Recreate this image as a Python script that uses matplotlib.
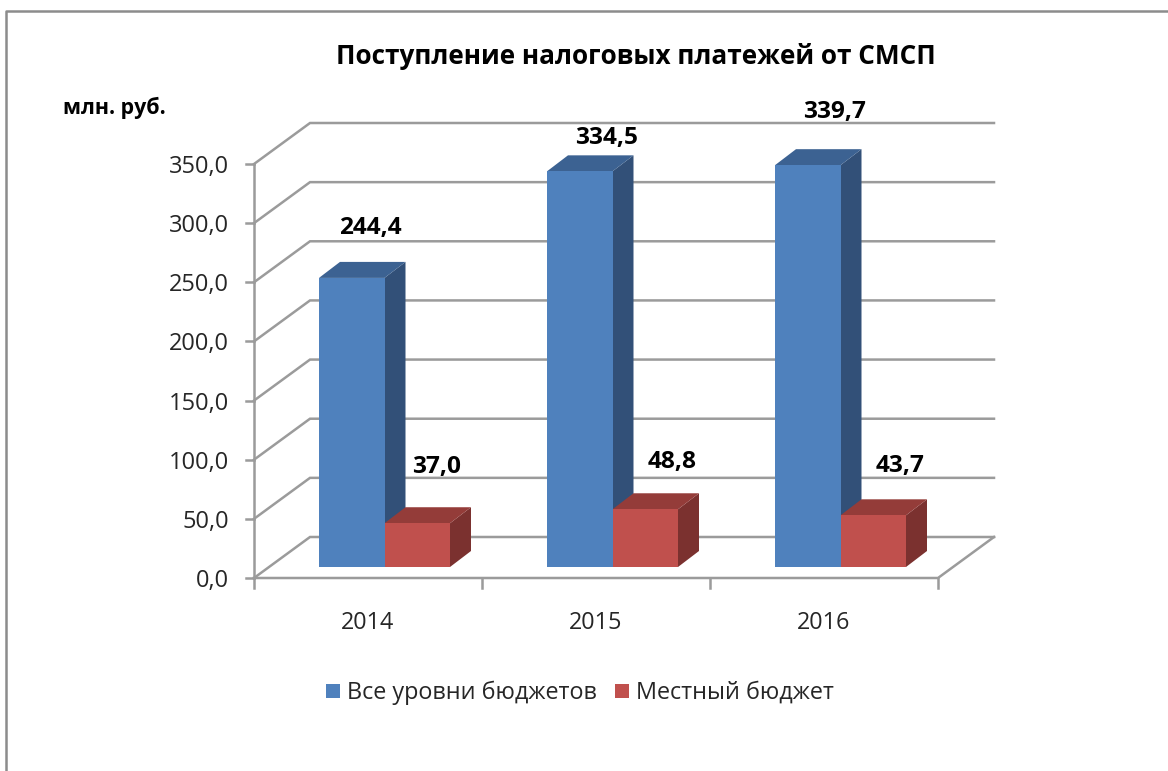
import matplotlib
matplotlib.use('Agg')
import matplotlib.pyplot as plt
from matplotlib.patches import Rectangle

plt.rcParams['font.family'] = ['Open Sans', 'DejaVu Sans']

years = ['2014', '2015', '2016']
all_budgets = [244.4, 334.5, 339.7]
local_budget = [37.0, 48.8, 43.7]
all_labels = ['244,4', '334,5', '339,7']
local_labels = ['37,0', '48,8', '43,7']
y_ticks = [0, 50, 100, 150, 200, 250, 300, 350]
y_tick_labels = ['0,0', '50,0', '100,0', '150,0', '200,0', '250,0', '300,0', '350,0']
series_names = ['Все уровни бюджетов', 'Местный бюджет']

W, H = 1168, 771
# plot box in pixels (front plane of the 3d chart)
L, R, T, B = 254, 938, 164, 578
GRID = '#9b9b9b'

fig = plt.figure(figsize=(W / 100, H / 100), dpi=100, facecolor='white')
ax = fig.add_axes([L / W, 1 - B / H, (R - L) / W, (B - T) / H])
ax.set_xlim(0, 3)
ax.set_ylim(0, 350)
ax.axis('off')

px_x = 3 / (R - L)
px_y = 350 / (B - T)


def fig_text(x, y, s, **kw):
    fig.text(x / W, 1 - y / H, s, va='center', **kw)


def draw_3d_bars(x0, values, front, top, side):
    # front face is a normal bar, top and side are sheared by the depth
    dx, dy = 21 * px_x, 16 * px_y
    base = 11 * px_y
    width = 65.5 * px_x
    for i, v in enumerate(values):
        xl = i + x0
        xr = xl + width
        yt = v + base
        ax.fill([xr, xr + dx, xr + dx, xr], [base, base + dy, yt + dy, yt],
                color=side, lw=0, zorder=3, clip_on=False)
        ax.fill([xl, xl + dx, xr + dx, xr], [yt, yt + dy, yt + dy, yt],
                color=top, lw=0, zorder=3, clip_on=False)
        ax.bar(xl, v, width=width, bottom=base, align='edge', color=front,
               lw=0, zorder=4, clip_on=False)


# gridlines run along the side wall and then the back wall
wall_x, wall_y = 56 * px_x, 41 * px_y
for v in y_ticks:
    ax.plot([0, wall_x, 3 + wall_x], [v, v + wall_y, v + wall_y], color=GRID,
            lw=1.8, zorder=1, clip_on=False, solid_joinstyle='miter')
    ax.plot([-8 * px_x, 0], [v, v], color=GRID, lw=1.8, zorder=1, clip_on=False)
    fig_text(229, B - v / px_y + 3, y_tick_labels[y_ticks.index(v)], ha='right',
             fontsize=17, color='#262626')

# floor edges and axes
ax.plot([0, 0], [0, 350], color=GRID, lw=1.8, zorder=1, clip_on=False)
ax.plot([0, 3, 3 + wall_x], [0, 0, wall_y], color=GRID, lw=1.8, zorder=2, clip_on=False)
for i in range(4):
    ax.plot([i, i], [0, -10 * px_y], color=GRID, lw=1.8, zorder=1, clip_on=False)

draw_3d_bars(65 * px_x, all_budgets, '#4f81bd', '#3c6292', '#325078')
draw_3d_bars(130.5 * px_x, local_budget, '#c0504d', '#943c39', '#7b312f')

for i, year in enumerate(years):
    fig_text(368 + i * 228, 623, year, ha='center', fontsize=16.8, color='#262626')

# value labels
all_pos = [(370, 228), (606, 138), (834, 112)]
local_pos = [(437, 467), (672, 462), (900, 466)]
for s, p in zip(all_labels + local_labels, all_pos + local_pos):
    fig_text(p[0], p[1], s, ha='center', fontsize=17.6, fontweight='bold', color='black')

fig_text(636, 56, 'Поступление налоговых платежей от СМСП', ha='center',
         fontsize=18.8, fontweight='bold', color='black')
fig_text(63, 108, 'млн. руб.', ha='left', fontsize=15.4, fontweight='bold', color='black')

# legend
fig.add_artist(Rectangle((326 / W, 1 - 698 / H), 14 / W, 14 / H, color='#4f81bd', lw=0))
fig.add_artist(Rectangle((615 / W, 1 - 698 / H), 14 / W, 14 / H, color='#c0504d', lw=0))
fig_text(347, 693, series_names[0], ha='left', fontsize=16.8, color='#262626')
fig_text(636, 693, series_names[1], ha='left', fontsize=16.8, color='#262626')

# outer frame, cut off on the right and bottom
fig.add_artist(plt.Line2D([6 / W, 6 / W, 1], [0, 1 - 11 / H, 1 - 11 / H],
                          color='#8c8c8c', lw=1.8))

fig.savefig('out.png', dpi=100)
